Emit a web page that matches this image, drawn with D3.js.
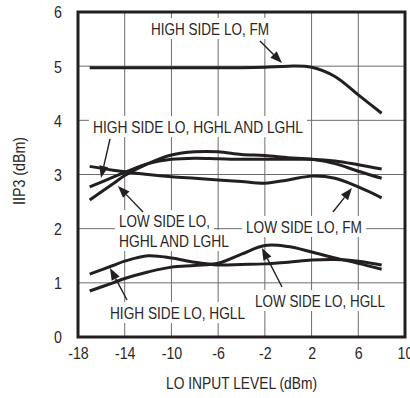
<!DOCTYPE html>
<html><head><meta charset="utf-8">
<script src="https://cdn.jsdelivr.net/npm/d3@7/dist/d3.min.js"></script>
<style>
html,body{margin:0;padding:0;background:#fff;}
text{font-family:"Liberation Sans Narrow","Arial Narrow","Liberation Sans",Arial,sans-serif;fill:#2a2627;}
</style></head>
<body><svg id="c" width="410" height="398"></svg>
<script>
// ---- data ----
const xTicks = [-18, -14, -10, -6, -2, 2, 6, 10];
const yTicks = [0, 1, 2, 3, 4, 5, 6];
const loLevel = [-17, -15, -14, -12, -10, -8, -6, -4, -2, 0, 2, 4, 6, 8];
const highSideFM      = [4.97, 4.97, 4.97, 4.97, 4.97, 4.97, 4.97, 4.97, 4.98, 5.00, 4.98, 4.81, 4.47, 4.13];
const highSideHGHL    = [2.77, 2.95, 3.04, 3.20, 3.28, 3.30, 3.29, 3.28, 3.28, 3.28, 3.28, 3.25, 3.18, 3.10];
const lowSideHGHL     = [2.53, 2.83, 2.98, 3.20, 3.36, 3.42, 3.42, 3.37, 3.35, 3.31, 3.28, 3.20, 3.06, 2.93];
const lowSideFM       = [3.15, 3.08, 3.05, 3.00, 2.96, 2.93, 2.90, 2.87, 2.84, 2.90, 2.97, 2.93, 2.77, 2.57];
const highSideHGLL    = [1.16, 1.32, 1.40, 1.50, 1.46, 1.38, 1.33, 1.34, 1.35, 1.38, 1.42, 1.43, 1.40, 1.33];
const lowSideHGLL     = [0.85, 1.00, 1.08, 1.20, 1.29, 1.32, 1.36, 1.53, 1.69, 1.67, 1.57, 1.46, 1.36, 1.25];
const seriesList = [highSideFM, highSideHGHL, lowSideHGHL, lowSideFM, highSideHGLL, lowSideHGLL];

// annotation labels: text, x (dBm), baseline y (dBm), width
const labelText = ["HIGH SIDE LO, FM", "HIGH SIDE LO, HGHL AND LGHL", "LOW SIDE LO,", "HGHL AND LGHL",
                   "LOW SIDE LO, FM", "LOW SIDE LO, HGLL", "HIGH SIDE LO, HGLL"];
const labelX = [-11.75, -16.72, -14.49, -14.49, -3.62, -2.84, -15.26];
const labelY = [5.575, 3.766, 2.031, 1.662, 1.92, 0.554, 0.332];
const labelW = [118, 210, 91, 110, 116, 130, 135];
// arrows: from (x0,y0) to tip (x1,y1), in data units
const arrowX0 = [-2.42, -15.26, -12.43, 3.83, -13.80, -0.53];
const arrowY0 = [5.465, 3.655, 2.308, 2.308, 0.683, 0.923];
const arrowX1 = [-0.53, -16.03, -14.58, 5.46, -15.26, -2.25];
const arrowY1 = [5.058, 2.935, 2.788, 2.751, 1.274, 1.643];

// ---- chart ----
const L = 78, R = 405, T = 12, B = 337;
const svg = d3.select("#c");
const x = d3.scaleLinear().domain([-18, 10]).range([L, R]);
const y = d3.scaleLinear().domain([0, 6]).range([B, T]);

// grid
const grid = svg.append("g").attr("stroke", "#6d6d6d").attr("stroke-width", 1);
grid.selectAll(".v").data(xTicks).join("line")
  .attr("x1", d => x(d)).attr("x2", d => x(d)).attr("y1", T).attr("y2", B);
grid.selectAll(".h").data(yTicks).join("line")
  .attr("y1", d => y(d)).attr("y2", d => y(d)).attr("x1", L).attr("x2", R);

// axes (labels only)
const xAxis = svg.append("g").attr("transform", `translate(0,${B})`)
  .call(d3.axisBottom(x).tickValues(xTicks).tickSize(0).tickPadding(0).tickFormat(d => d));
xAxis.select(".domain").remove();
xAxis.selectAll("text").attr("y", 22).attr("dy", 0).attr("font-size", 16.5);
const yAxis = svg.append("g").attr("transform", `translate(${L},0)`)
  .call(d3.axisLeft(y).tickValues(yTicks).tickSize(0).tickPadding(0).tickFormat(d => d));
yAxis.select(".domain").remove();
yAxis.selectAll("text").attr("x", -16).attr("dy", "0.36em").attr("font-size", 16.5);
svg.selectAll("g[font-family]").attr("font-family", null);
svg.selectAll(".tick text").attr("fill", "#2a2627").each(function () {
  const w = this.getComputedTextLength();
  d3.select(this).attr("textLength", w * 0.86).attr("lengthAdjust", "spacingAndGlyphs");
});

svg.append("text").attr("x", (L + R) / 2).attr("y", 389).attr("text-anchor", "middle")
  .attr("font-size", 16.5).attr("textLength", 151).attr("lengthAdjust", "spacingAndGlyphs")
  .text("LO INPUT LEVEL (dBm)");
svg.append("text").attr("transform", "translate(25,171) rotate(-90)").attr("text-anchor", "middle")
  .attr("font-size", 16.5).attr("textLength", 68).attr("lengthAdjust", "spacingAndGlyphs")
  .text("IIP3 (dBm)");

// labels with white backgrounds
const lab = svg.append("g");
labelText.forEach((t, i) => {
  const g = lab.append("g");
  const txt = g.append("text").attr("x", x(labelX[i])).attr("y", y(labelY[i]))
    .attr("font-size", 16.5).attr("textLength", labelW[i]).attr("lengthAdjust", "spacingAndGlyphs")
    .text(t);
  const bb = txt.node().getBBox();
  g.insert("rect", "text").attr("x", bb.x - 4).attr("y", bb.y - 2)
    .attr("width", bb.width + 8).attr("height", bb.height + 3).attr("fill", "#fff");
});

// curves
const line = d3.line().x((d, i) => x(loLevel[i])).y(d => y(d)).curve(d3.curveCatmullRom.alpha(0.5));
svg.append("g").selectAll("path").data(seriesList).join("path")
  .attr("d", line).attr("fill", "none").attr("stroke", "#231f20").attr("stroke-width", 3)
  .attr("stroke-linecap", "butt");

// arrows
const arr = svg.append("g");
arrowX0.forEach((_, i) => {
  const x0 = x(arrowX0[i]), y0 = y(arrowY0[i]), x1 = x(arrowX1[i]), y1 = y(arrowY1[i]);
  const ang = Math.atan2(y1 - y0, x1 - x0);
  const hl = 12, hw = 4.5;
  const bx = x1 - hl * Math.cos(ang), by = y1 - hl * Math.sin(ang);
  arr.append("line").attr("x1", x0).attr("y1", y0).attr("x2", bx).attr("y2", by)
    .attr("stroke", "#231f20").attr("stroke-width", 1.4);
  const px = -Math.sin(ang), py = Math.cos(ang);
  arr.append("path").attr("d", `M${x1},${y1}L${bx + px * hw},${by + py * hw}L${bx - px * hw},${by - py * hw}Z`)
    .attr("fill", "#231f20");
});

// frame
svg.append("rect").attr("x", L).attr("y", T).attr("width", R - L).attr("height", B - T)
  .attr("fill", "none").attr("stroke", "#231f20").attr("stroke-width", 3);
</script></body></html>
